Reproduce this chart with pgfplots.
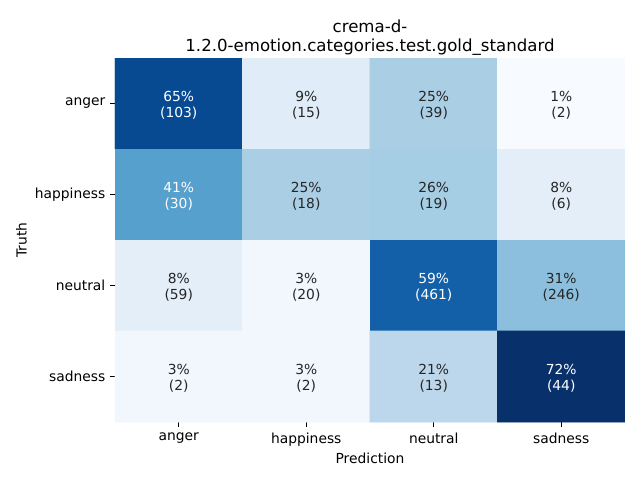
\documentclass[border=0pt]{standalone}
\usepackage{pgfplots}
\pgfplotsset{compat=1.18}
\usepackage{fontspec}
\setmainfont{DejaVu Sans}

% cell values: column, row, percentage, count
\begin{document}
\begin{tikzpicture}
\useasboundingbox (0,0) rectangle (6.4in,4.8in);
\begin{axis}[
    at={(1.15in,0.58in)}, anchor=south west,
    scale only axis,
    width=5.1in, height=3.64in,
    xmin=-0.5, xmax=3.5, ymin=-0.5, ymax=3.5,
    y dir=reverse,
    enlargelimits=false,
    axis line style={draw=none},
    xtick={0,1,2,3}, ytick={0,1,2,3},
    xticklabels={anger,happiness,neutral,sadness},
    yticklabels={anger,happiness,neutral,sadness},
    xtick pos=bottom, ytick pos=left,
    tick align=outside,
    major tick length=3.5pt,
    every tick/.style={draw=black, line width=0.8pt},
    ticklabel style={font=\fontsize{10}{12}\selectfont},
    xticklabel style={yshift=-1pt},
    yticklabel style={xshift=0pt},
    xlabel={Prediction}, ylabel={Truth},
    xlabel style={yshift=2pt},
    ylabel style={yshift=-1pt},
    label style={font=\fontsize{10}{12}\selectfont},
    title={crema-d-\\1.2.0-emotion.categories.test.gold\_standard},
    title style={align=center, font=\fontsize{12}{13.7}\selectfont, yshift=-7.5pt},
    colormap={blues}{rgb255=(247,251,255) rgb255=(222,235,247) rgb255=(198,219,239)
        rgb255=(158,202,225) rgb255=(107,174,214) rgb255=(66,146,198)
        rgb255=(33,113,181) rgb255=(8,81,156) rgb255=(8,48,107)},
    point meta min=1, point meta max=72,
]
\addplot[matrix plot*, mesh/cols=4, point meta=explicit] table[meta=p] {
x y p
0 0 65
1 0 9
2 0 25
3 0 1
0 1 41
1 1 25
2 1 26
3 1 8
0 2 8
1 2 3
2 2 59
3 2 31
0 3 3
1 3 3
2 3 21
3 3 72
};
% annotations, white on dark cells
\addplot[draw=none, mark=none,
    nodes near coords={\pct\%\\(\cnt)},
    nodes near coords align=center,
    visualization depends on={value \thisrow{p}\as\pct},
    visualization depends on={value \thisrow{n}\as\cnt},
    every node near coord/.append style={anchor=center, align=center, text=white,
        font=\fontsize{10}{11.8}\selectfont, yshift=-1.5pt},
] table {
x y p n
0 0 65 103
0 1 41 30
2 2 59 461
3 3 72 44
};
% annotations, dark on light cells
\addplot[draw=none, mark=none,
    nodes near coords={\pct\%\\(\cnt)},
    nodes near coords align=center,
    visualization depends on={value \thisrow{p}\as\pct},
    visualization depends on={value \thisrow{n}\as\cnt},
    every node near coord/.append style={anchor=center, align=center, text={rgb,255:red,38;green,38;blue,38},
        font=\fontsize{10}{11.8}\selectfont, yshift=-1.5pt},
] table {
x y p n
1 0 9 15
2 0 25 39
3 0 1 2
1 1 25 18
2 1 26 19
3 1 8 6
0 2 8 59
1 2 3 20
3 2 31 246
0 3 3 2
1 3 3 2
2 3 21 13
};
\end{axis}
\end{tikzpicture}
\end{document}
